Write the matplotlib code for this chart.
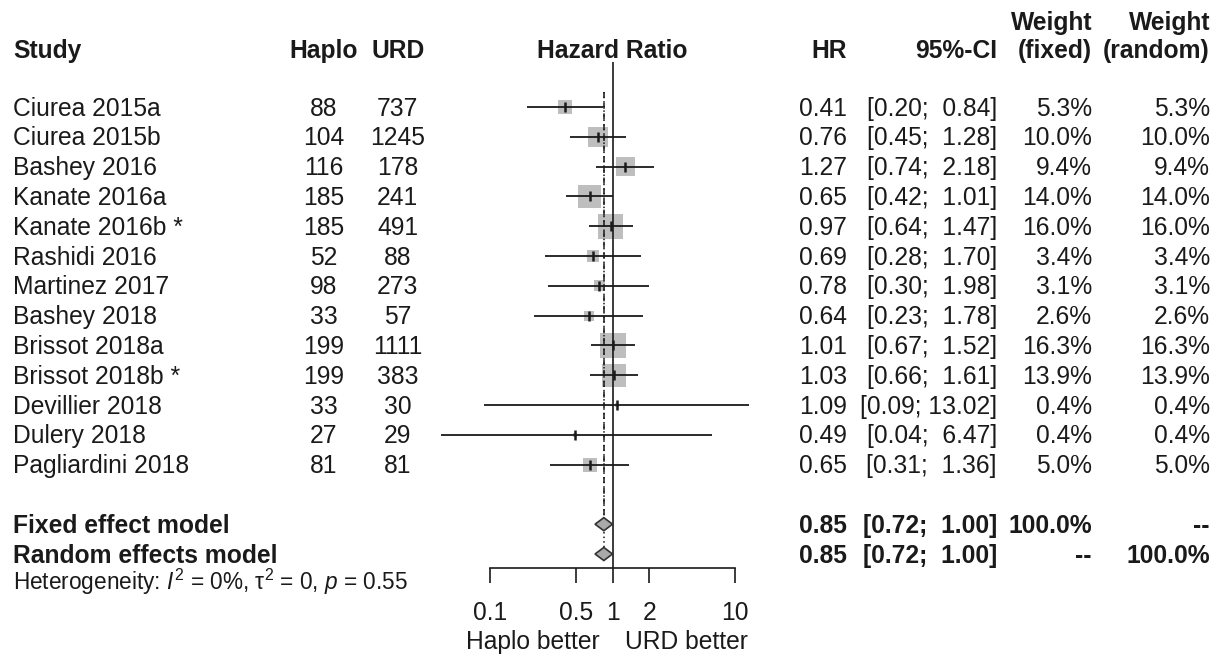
"""
Forest plot: haploidentical vs. unrelated donor transplant, hazard ratios
per study with fixed- and random-effects pooled estimates.
"""

import matplotlib

matplotlib.use("Agg")
import matplotlib.pyplot as plt
from matplotlib import transforms
from matplotlib.ticker import NullLocator

plt.rcParams["font.family"] = ["Liberation Sans", "DejaVu Sans"]
plt.rcParams["mathtext.fontset"] = "custom"
plt.rcParams["mathtext.rm"] = "Liberation Sans"
plt.rcParams["mathtext.it"] = "Liberation Sans:italic"
plt.rcParams["mathtext.bf"] = "Liberation Sans:bold"

studies = ["Ciurea 2015a", "Ciurea 2015b", "Bashey 2016", "Kanate 2016a",
           "Kanate 2016b *", "Rashidi 2016", "Martinez 2017", "Bashey 2018",
           "Brissot 2018a", "Brissot 2018b *", "Devillier 2018", "Dulery 2018",
           "Pagliardini 2018"]
haplo_n = [88, 104, 116, 185, 185, 52, 98, 33, 199, 199, 33, 27, 81]
urd_n = [737, 1245, 178, 241, 491, 88, 273, 57, 1111, 383, 30, 29, 81]
hr = [0.41, 0.76, 1.27, 0.65, 0.97, 0.69, 0.78, 0.64, 1.01, 1.03, 1.09, 0.49, 0.65]
ci_lo = [0.20, 0.45, 0.74, 0.42, 0.64, 0.28, 0.30, 0.23, 0.67, 0.66, 0.09, 0.04, 0.31]
ci_hi = [0.84, 1.28, 2.18, 1.01, 1.47, 1.70, 1.98, 1.78, 1.52, 1.61, 13.02, 6.47, 1.36]
w_fixed = [5.3, 10.0, 9.4, 14.0, 16.0, 3.4, 3.1, 2.6, 16.3, 13.9, 0.4, 0.4, 5.0]
w_random = [5.3, 10.0, 9.4, 14.0, 16.0, 3.4, 3.1, 2.6, 16.3, 13.9, 0.4, 0.4, 5.0]

pooled_labels = ["Fixed effect model", "Random effects model"]
pooled_hr = [0.85, 0.85]
pooled_lo = [0.72, 0.72]
pooled_hi = [1.00, 1.00]
pooled_w_fixed = ["100.0%", "--"]
pooled_w_random = ["--", "100.0%"]

het_text = r"Heterogeneity: $I^2$ = 0%, $\mathrm{\tau}^2$ = 0, $p$ = 0.55"

x_ticks = [0.1, 0.5, 1, 2, 10]
x_tick_labels = ["0.1", "0.5", "1", "2", "10"]

INK = "#1a1a1a"
SQUARE = "#bebebe"
DIAMOND = "#a9a9a9"
FS = 17.7

W, H = 1230, 658
REF_PX, DECADE_PX = 612.5, 122.5      # HR = 1 position, pixels per decade
ROW0_PX, ROW_PX = 107.0, 29.8          # first study row, row pitch

fig = plt.figure(figsize=(W / 100, H / 100), dpi=100)
fig.patch.set_facecolor("white")
ax = fig.add_axes([0, 0, 1, 1])
ax.patch.set_visible(False)
ax.set_xscale("log")
ax.set_xlim(10 ** (-REF_PX / DECADE_PX), 10 ** ((W - REF_PX) / DECADE_PX))
ax.set_ylim(1 + (H - ROW0_PX) / ROW_PX, 1 - ROW0_PX / ROW_PX)


def row_of(px):
    return 1 + (px - ROW0_PX) / ROW_PX


# text columns: x as figure fraction, y in row units
col_tr = transforms.blended_transform_factory(fig.transFigure, ax.transData)
BASE = 0.716 * 24 / 2 / ROW_PX          # cap centre -> baseline


def put(xpx, row, s, ha="left", bold=False, size=FS):
    ax.text(xpx / W, row + BASE, s, transform=col_tr, ha=ha, va="baseline",
            fontsize=size, fontweight="bold" if bold else "normal", color=INK)


rows = list(range(1, len(studies) + 1))
pool_rows = [len(studies) + 2, len(studies) + 3]
axis_row = row_of(568.3)
hdr = row_of(49)
hdr_top = row_of(21.5)

# header
put(13, hdr, "Study", bold=True)
put(324, hdr, "Haplo", ha="center", bold=True)
put(398, hdr, "URD", ha="center", bold=True)
put(REF_PX, hdr, "Hazard Ratio", ha="center", bold=True)
put(847, hdr, "HR", ha="right", bold=True)
put(997, hdr, "95%-CI", ha="right", bold=True)
put(1092, hdr_top, "Weight", ha="right", bold=True)
put(1092, hdr, "(fixed)", ha="right", bold=True)
put(1210, hdr_top, "Weight", ha="right", bold=True)
put(1210, hdr, "(random)", ha="right", bold=True)

# study rows
for r, name, nh, nu, e, lo, hi, wf, wr in zip(rows, studies, haplo_n, urd_n, hr,
                                              ci_lo, ci_hi, w_fixed, w_random):
    put(13, r, name)
    put(323.5, r, f"{nh}", ha="center")
    put(397.5, r, f"{nu}", ha="center")
    put(847, r, f"{e:.2f}", ha="right")
    put(997, r, f"[{lo:.2f}; {hi:5.2f}]", ha="right")
    put(1092, r, f"{wf:.1f}%", ha="right")
    put(1210, r, f"{wr:.1f}%", ha="right")

for r, lab, e, lo, hi, wf, wr in zip(pool_rows, pooled_labels, pooled_hr,
                                     pooled_lo, pooled_hi, pooled_w_fixed,
                                     pooled_w_random):
    put(13, r, lab, bold=True)
    put(847, r, f"{e:.2f}", ha="right", bold=True)
    put(997, r, f"[{lo:.2f}; {hi:5.2f}]", ha="right", bold=True)
    put(1092, r, wf, ha="right", bold=True)
    put(1210, r, wr, ha="right", bold=True)

put(13, row_of(581), het_text, size=16.3)

# squares (area proportional to weight), CI lines, point marks
ax.scatter(hr, rows, s=[20.25 * w for w in w_fixed], marker="s",
           color=SQUARE, edgecolors="none", zorder=2)
ax.vlines(1, -0.5, axis_row, color=INK, lw=1.2, zorder=3)
ax.vlines(pooled_hr[0], 0.5, pool_rows[0] - 0.22, color=INK, lw=1.1,
          linestyles=(0, (4, 3)), zorder=3)
ax.vlines(pooled_hr[1], 0.5, pool_rows[1] - 0.22, color=INK, lw=1.1,
          linestyles=(0, (1, 2)), zorder=3)
ax.hlines(rows, ci_lo, ci_hi, color=INK, lw=1.3, zorder=4)
ax.plot(hr, rows, linestyle="none", marker="|", ms=7.5, mew=1.8,
        color=INK, zorder=5)

# pooled diamonds
dh = 0.22
for r, e, lo, hi in zip(pool_rows, pooled_hr, pooled_lo, pooled_hi):
    ax.fill([lo, e, hi, e], [r, r - dh, r, r + dh], facecolor=DIAMOND,
            edgecolor="#333333", lw=1.2, zorder=6)

# x axis
for side in ("left", "right", "top"):
    ax.spines[side].set_visible(False)
ax.spines["bottom"].set_position(("data", axis_row))
ax.spines["bottom"].set_bounds(0.1, 10)
ax.spines["bottom"].set_linewidth(1.2)
ax.spines["bottom"].set_color(INK)
ax.set_yticks([])
ax.set_xticks(x_ticks, x_tick_labels)
ax.xaxis.set_minor_locator(NullLocator())
ax.tick_params(axis="x", direction="out", length=10.8, width=1.2,
               color=INK, labelsize=FS, labelcolor=INK, pad=13)

lab_row = row_of(640)
put(REF_PX - 12.5, lab_row, "Haplo better", ha="right")
put(REF_PX + 12.5, lab_row, "URD better", ha="left")

fig.savefig("out.png", dpi=100, facecolor="white")
